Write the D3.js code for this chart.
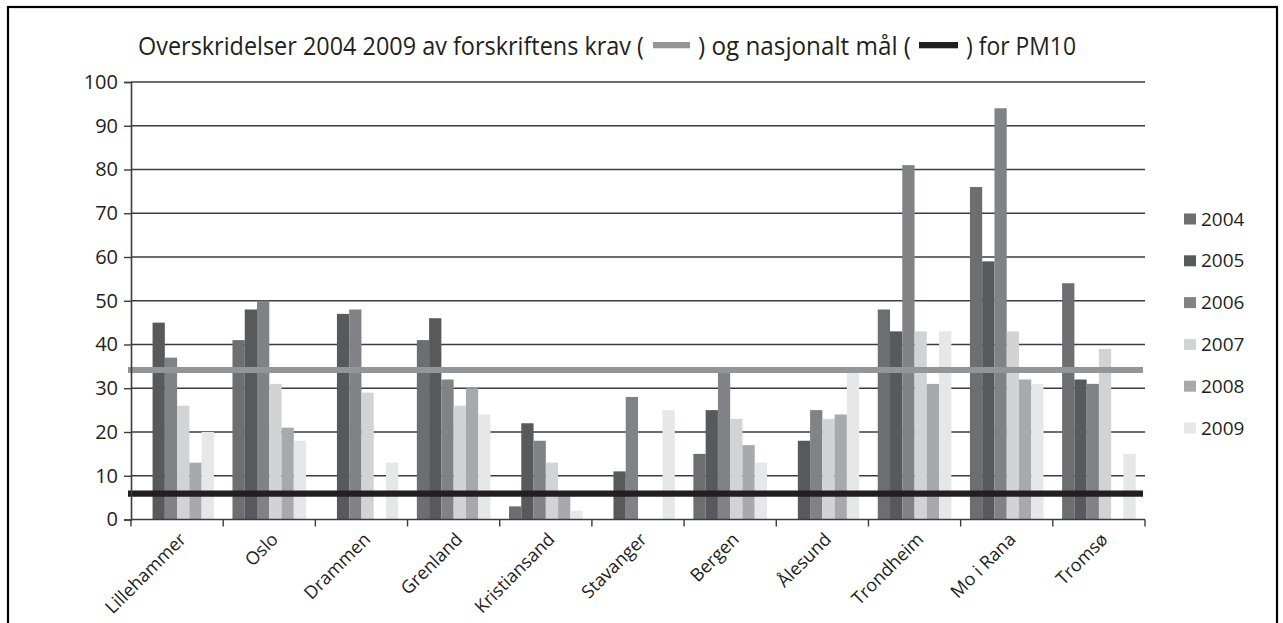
<!DOCTYPE html>
<html>
<head>
<meta charset="utf-8">
<script src="https://cdn.jsdelivr.net/npm/d3@7"></script>
<style>
  html, body { margin: 0; padding: 0; background: #fff; }
  svg { display: block; }
  text { font-family: "Open Sans", "DejaVu Sans", sans-serif; fill: #231f20; }
</style>
</head>
<body>
<svg id="chart" width="1283" height="623"></svg>
<script>
// ---- data ----
const cities = ["Lillehammer", "Oslo", "Drammen", "Grenland", "Kristiansand", "Stavanger", "Bergen", "Ålesund", "Trondheim", "Mo i Rana", "Tromsø"];
const years = ["2004", "2005", "2006", "2007", "2008", "2009"];
const v2004 = [0, 41, 0, 41, 3, 0, 15, 0, 48, 76, 54];
const v2005 = [45, 48, 47, 46, 22, 11, 25, 18, 43, 59, 32];
const v2006 = [37, 50, 48, 32, 18, 28, 34, 25, 81, 94, 31];
const v2007 = [26, 31, 29, 26, 13, 0, 23, 23, 43, 43, 39];
const v2008 = [13, 21, 0, 30, 6, 0, 17, 24, 31, 32, 0];
const v2009 = [20, 18, 13, 24, 2, 25, 13, 34, 43, 31, 15];
const yTicks = [0, 10, 20, 30, 40, 50, 60, 70, 80, 90, 100];
const limitValue = 34.2;   // forskriftens krav
const targetValue = 5.9;   // nasjonalt mål
const titleParts = ["Overskridelser 2004 2009 av forskriftens krav (", ") og nasjonalt mål (", ") for PM10"];

const seriesValues = [v2004, v2005, v2006, v2007, v2008, v2009];
const colors = ["#6d6e71", "#58595b", "#808285", "#d1d3d4", "#a7a9ac", "#e6e7e8"];

// ---- layout ----
const svg = d3.select("#chart");
const plotLeft = 131, plotRight = 1145, plotTop = 82, plotBottom = 519.5;

// frame
svg.append("rect")
  .attr("x", 8).attr("y", 7).attr("width", 1269).attr("height", 700)
  .attr("fill", "none").attr("stroke", "#000").attr("stroke-width", 2.2);

const x0 = d3.scaleBand().domain(cities).range([plotLeft, plotRight]).paddingInner(0).paddingOuter(0);
const bw = x0.bandwidth();
const x1 = d3.scaleBand().domain(years).range([9.3, bw - 9.3]).padding(0);
const y = d3.scaleLinear().domain([0, 100]).range([plotBottom, plotTop]);

// gridlines
svg.append("g").selectAll("line")
  .data(yTicks.filter(d => d > 0))
  .join("line")
  .attr("x1", plotLeft).attr("x2", plotRight)
  .attr("y1", d => y(d)).attr("y2", d => y(d))
  .attr("stroke", "#3c3c3e").attr("stroke-width", 1.4);

// bars
const data = [];
cities.forEach((c, i) => {
  years.forEach((yr, j) => {
    data.push({ city: c, year: yr, value: seriesValues[j][i], color: colors[j] });
  });
});
svg.append("g").selectAll("rect")
  .data(data.filter(d => d.value > 0))
  .join("rect")
  .attr("x", d => x0(d.city) + x1(d.year))
  .attr("width", x1.bandwidth())
  .attr("y", d => y(d.value))
  .attr("height", d => y(0) - y(d.value))
  .attr("fill", d => d.color);

// reference lines
svg.append("line")
  .attr("x1", 128).attr("x2", 1143)
  .attr("y1", y(limitValue)).attr("y2", y(limitValue))
  .attr("stroke", "#939598").attr("stroke-width", 6);
svg.append("line")
  .attr("x1", 128).attr("x2", 1143)
  .attr("y1", y(targetValue)).attr("y2", y(targetValue))
  .attr("stroke", "#231f20").attr("stroke-width", 6.3);

// y axis
const yAxis = d3.axisLeft(y).tickValues(yTicks).tickSize(7).tickPadding(6).tickFormat(d3.format("d"));
const gy = svg.append("g").attr("transform", `translate(${plotLeft},0)`).call(yAxis);
gy.select(".domain").attr("stroke", "#3c3c3e").attr("stroke-width", 1.6);
gy.selectAll(".tick line").attr("stroke", "#3c3c3e").attr("stroke-width", 1.4);
gy.selectAll(".tick text").attr("font-size", 20).attr("fill", "#231f20")
  .attr("font-family", "'Open Sans', sans-serif");

// x axis
const gx = svg.append("g").attr("transform", `translate(0,${plotBottom})`);
gx.append("line").attr("x1", plotLeft).attr("x2", plotRight).attr("y1", 0).attr("y2", 0)
  .attr("stroke", "#3c3c3e").attr("stroke-width", 1.6);
const boundaries = cities.map(c => x0(c)).concat([x0(cities[cities.length - 1]) + bw]);
gx.selectAll("line.tk").data(boundaries).join("line").attr("class", "tk")
  .attr("x1", d => d).attr("x2", d => d).attr("y1", 0).attr("y2", 7)
  .attr("stroke", "#3c3c3e").attr("stroke-width", 1.4);
svg.append("g").selectAll("text")
  .data(cities)
  .join("text")
  .attr("transform", d => `translate(${x0(d) + bw / 2 + 10},${plotBottom + 21}) rotate(-45)`)
  .attr("text-anchor", "end")
  .attr("font-size", 18)
  .text(d => d);

// legend
const lg = svg.append("g").selectAll("g")
  .data(years)
  .join("g")
  .attr("transform", (d, i) => `translate(1184,${219 + i * 41.8})`);
lg.append("rect").attr("x", 0).attr("y", -5.5).attr("width", 12).attr("height", 11)
  .attr("fill", (d, i) => colors[i]);
lg.append("text").attr("x", 17).attr("y", 0).attr("dy", "0.35em")
  .attr("font-size", 19).text(d => d);

// title
const tg = svg.append("g");
const tBase = 55;
tg.append("text").attr("x", 138).attr("y", tBase).attr("font-size", 25.5)
  .attr("textLength", 506).attr("lengthAdjust", "spacingAndGlyphs").text(titleParts[0]);
tg.append("rect").attr("x", 653).attr("y", 42).attr("width", 37).attr("height", 6.3).attr("fill", "#939598");
tg.append("text").attr("x", 698).attr("y", tBase).attr("font-size", 25.5)
  .attr("textLength", 213).attr("lengthAdjust", "spacingAndGlyphs").text(titleParts[1]);
tg.append("rect").attr("x", 919).attr("y", 42).attr("width", 39).attr("height", 6.3).attr("fill", "#231f20");
tg.append("text").attr("x", 966).attr("y", tBase).attr("font-size", 25.5)
  .attr("textLength", 110).attr("lengthAdjust", "spacingAndGlyphs").text(titleParts[2]);
</script>
</body>
</html>
